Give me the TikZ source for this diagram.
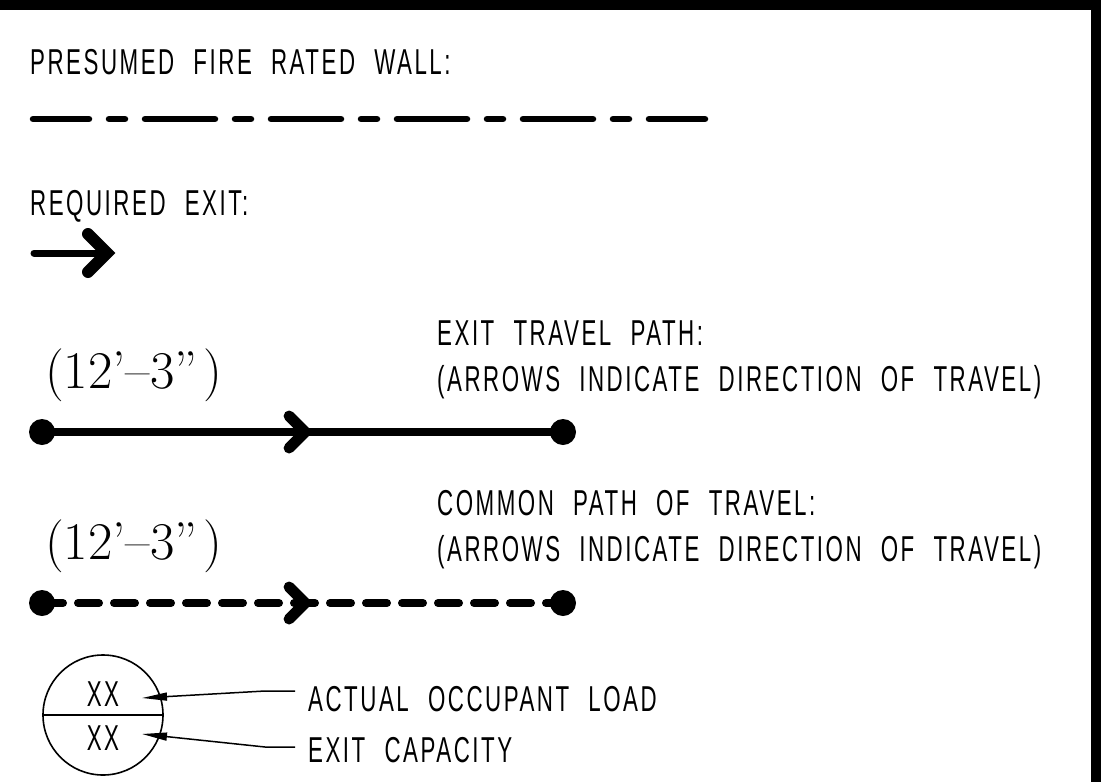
\documentclass[tikz,border=0pt]{standalone}
\usepackage{fontspec}
\usetikzlibrary{arrows.meta,calc}
\newfontfamily\cadfont[FakeStretch=0.62,LetterSpace=7,WordSpace=2.2]{Liberation Sans}
\newcommand{\travlen}{(12'--3''\hspace{6pt})}

\begin{document}
\begin{tikzpicture}[x=1pt,y=-1pt,
    cad/.style={font=\cadfont\fontsize{36}{40}\selectfont,inner sep=0pt,anchor=base west},
    len/.style={font=\fontsize{53}{58}\selectfont,inner sep=0pt,anchor=base west},
    dot/.style={circle,fill=black,inner sep=0pt,minimum size=26pt},
    chev/.style={line width=11pt,line cap=round,line join=miter},
    lead/.style={line width=1.5pt,-{Triangle[length=25pt,width=8pt]}}]
        \useasboundingbox (0,0) rectangle (1112,782);
        % Draw frame
        \fill (0,0) rectangle (1101,10);
        \fill (1091,0) rectangle (1101,782);
        % Draw fire rated wall
        \node[cad] (wall) at (30,74) {PRESUMED FIRE RATED WALL:};
        \coordinate (w0) at (33,119);
        \coordinate (w1) at (705,119);
        \draw[line width=6.5pt,line cap=round,dash pattern=on 70pt off 20pt on 16pt off 20pt,
        dash phase=14pt] (w0) -- (w1);
        % Draw required exit
        \node[cad] (req) at (30,215) {REQUIRED EXIT:};
        \coordinate (r0) at (34,253);
        \coordinate (r1) at (107,253);
        \draw[line width=7pt,line cap=round] (r0) -- (r1);
        \draw[line width=12pt,line cap=round,line join=miter] ($(r1)+(-19,-19)$) -- (r1)
        -- ($(r1)+(-19,19)$);
        % Draw exit travel path
        \node[cad] (trv) at (437,345) {EXIT TRAVEL PATH:};
        \node[cad] (trvnote) at (437,391) {(ARROWS INDICATE DIRECTION OF TRAVEL)};
        \node[len] (trvlen) at (45,388) {\travlen};
        \node[dot] (t0) at (42,432) {};
        \node[dot] (t1) at (563,432) {};
        \draw[line width=8pt] (t0.center) -- (t1.center);
        \coordinate (tmid) at ($(t0)!0.505!(t1)$);
        \draw[chev] ($(tmid)+(-16,-16)$) -- (tmid) -- ($(tmid)+(-16,16)$);
        % Draw common path of travel
        \node[cad] (com) at (437,515) {COMMON PATH OF TRAVEL:};
        \node[cad] (comnote) at (437,561) {(ARROWS INDICATE DIRECTION OF TRAVEL)};
        \node[len] (comlen) at (45,559) {\travlen};
        \node[dot] (c0) at (42,603) {};
        \node[dot] (c1) at (563,603) {};
        \draw[line width=8pt,line cap=round,dash pattern=on 21pt off 15pt] (c0.center) -- (c1.center);
        \coordinate (cmid) at ($(c0)!0.505!(c1)$);
        \draw[chev] ($(cmid)+(-16,-16)$) -- (cmid) -- ($(cmid)+(-16,16)$);
        % Draw occupant load circle
        \node[circle,draw,line width=1.6pt,minimum size=120pt,inner sep=0pt] (occ) at (103,715) {};
        \draw[line width=1.6pt] (occ.west) -- (occ.east);
        \node[cad,anchor=base] (occtop) at (103,706) {XX};
        \node[cad,anchor=base] (occbot) at (103,750) {XX};
        \node[cad] (act) at (308,711) {ACTUAL OCCUPANT LOAD};
        \node[cad] (cap) at (308,762) {EXIT CAPACITY};
        \coordinate (actend) at (295,691);
        \coordinate (acttip) at (142,698);
        \coordinate (capend) at (295,747);
        \coordinate (captip) at (142,734);
        \draw[lead] (actend) -- ++(-30,0) -- (acttip);
        \draw[lead] (capend) -- ++(-30,0) -- (captip);
    \end{tikzpicture}
\end{document}
